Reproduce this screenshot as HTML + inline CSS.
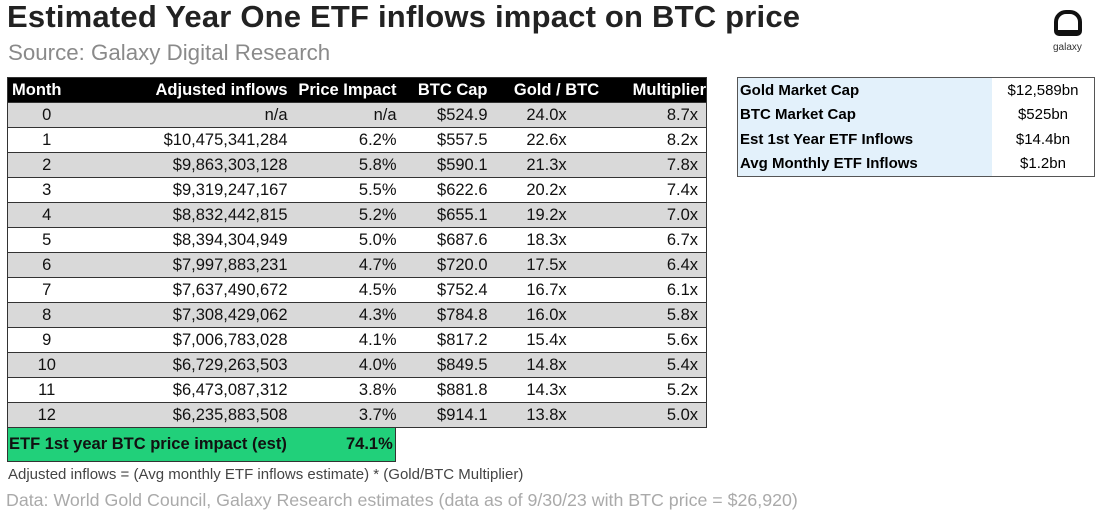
<!DOCTYPE html>
<html><head><meta charset="utf-8"><style>
body{margin:0;width:1100px;height:515px;background:#fff;font-family:"Liberation Sans",Arial,sans-serif;position:relative;overflow:hidden}
.a{position:absolute;white-space:nowrap}
table{border-collapse:collapse;position:absolute;table-layout:fixed}
#t{left:7px;top:77px;width:699px;font-size:16.5px;color:#111;border:1px solid #333}
#t td{height:24px;padding:0;border-top:1px solid #333;white-space:nowrap;overflow:hidden}
#t tr.h td{background:#000;color:#fff;font-weight:bold;font-size:16.5px}
#t tr.g td{background:#d9d9d9}
.r{text-align:right}.c{text-align:center}
#t td.p{padding-right:8px}
#t td.q{padding-right:20px}
#b{left:737px;top:77px;width:358px;border:1px solid #555;font-size:15px}
#b td{height:24.5px;padding:0 2px}
#b td.l{background:#e3f1fb;font-weight:bold;width:250px}
#b td.v{text-align:center}
</style></head><body>
<div class="a" style="left:7px;top:-1px;font-size:31px;font-weight:bold;color:#222;letter-spacing:0.2px">Estimated Year One ETF inflows impact on BTC price</div>
<div class="a" style="left:8px;top:40px;font-size:22.3px;color:#8a8a8a">Source: Galaxy Digital Research</div>
<div class="a" style="left:1054px;top:10px;width:28px;height:26px;border:4px solid #111;border-radius:12px 12px 5px 5px;box-sizing:border-box"></div>
<div class="a" style="left:1057px;top:30px;width:22px;height:5px;background:#111"></div>
<div class="a" style="left:1053px;top:42px;font-size:10px;color:#333">galaxy</div>
<table id="t">
<colgroup><col style="width:78px"><col style="width:202px"><col style="width:109px"><col style="width:91px"><col style="width:138px"><col style="width:81px"></colgroup>
<tr class="h"><td style="padding-left:4px">Month</td><td class="r">Adjusted inflows</td><td class="r">Price Impact</td><td class="r">BTC Cap</td><td class="c">Gold / BTC</td><td class="r">Multiplier</td></tr>
<tr class="g"><td class="c">0</td><td class="r">n/a</td><td class="r">n/a</td><td class="r">$524.9</td><td class="c q">24.0x</td><td class="r p">8.7x</td></tr>
<tr><td class="c">1</td><td class="r">$10,475,341,284</td><td class="r">6.2%</td><td class="r">$557.5</td><td class="c q">22.6x</td><td class="r p">8.2x</td></tr>
<tr class="g"><td class="c">2</td><td class="r">$9,863,303,128</td><td class="r">5.8%</td><td class="r">$590.1</td><td class="c q">21.3x</td><td class="r p">7.8x</td></tr>
<tr><td class="c">3</td><td class="r">$9,319,247,167</td><td class="r">5.5%</td><td class="r">$622.6</td><td class="c q">20.2x</td><td class="r p">7.4x</td></tr>
<tr class="g"><td class="c">4</td><td class="r">$8,832,442,815</td><td class="r">5.2%</td><td class="r">$655.1</td><td class="c q">19.2x</td><td class="r p">7.0x</td></tr>
<tr><td class="c">5</td><td class="r">$8,394,304,949</td><td class="r">5.0%</td><td class="r">$687.6</td><td class="c q">18.3x</td><td class="r p">6.7x</td></tr>
<tr class="g"><td class="c">6</td><td class="r">$7,997,883,231</td><td class="r">4.7%</td><td class="r">$720.0</td><td class="c q">17.5x</td><td class="r p">6.4x</td></tr>
<tr><td class="c">7</td><td class="r">$7,637,490,672</td><td class="r">4.5%</td><td class="r">$752.4</td><td class="c q">16.7x</td><td class="r p">6.1x</td></tr>
<tr class="g"><td class="c">8</td><td class="r">$7,308,429,062</td><td class="r">4.3%</td><td class="r">$784.8</td><td class="c q">16.0x</td><td class="r p">5.8x</td></tr>
<tr><td class="c">9</td><td class="r">$7,006,783,028</td><td class="r">4.1%</td><td class="r">$817.2</td><td class="c q">15.4x</td><td class="r p">5.6x</td></tr>
<tr class="g"><td class="c">10</td><td class="r">$6,729,263,503</td><td class="r">4.0%</td><td class="r">$849.5</td><td class="c q">14.8x</td><td class="r p">5.4x</td></tr>
<tr><td class="c">11</td><td class="r">$6,473,087,312</td><td class="r">3.8%</td><td class="r">$881.8</td><td class="c q">14.3x</td><td class="r p">5.2x</td></tr>
<tr class="g"><td class="c">12</td><td class="r">$6,235,883,508</td><td class="r">3.7%</td><td class="r">$914.1</td><td class="c q">13.8x</td><td class="r p">5.0x</td></tr>
</table>
<div class="a" style="left:7px;top:427px;width:389px;height:35px;background:#21d07a;border:1px solid #333;box-sizing:border-box"></div>
<div class="a" style="left:9px;top:435px;font-size:16.5px;font-weight:bold;color:#111">ETF 1st year BTC price impact (est)</div>
<div class="a" style="left:346px;top:435px;font-size:16.5px;font-weight:bold;color:#111">74.1%</div>
<div class="a" style="left:8px;top:466px;font-size:15px;color:#444">Adjusted inflows = (Avg monthly ETF inflows estimate) * (Gold/BTC Multiplier)</div>
<div class="a" style="left:6px;top:490px;font-size:17.8px;color:#aaa">Data: World Gold Council, Galaxy Research estimates (data as of 9/30/23 with BTC price = $26,920)</div>
<table id="b">
<tr><td class="l">Gold Market Cap</td><td class="v">$12,589bn</td></tr>
<tr><td class="l">BTC Market Cap</td><td class="v">$525bn</td></tr>
<tr><td class="l">Est 1st Year ETF Inflows</td><td class="v">$14.4bn</td></tr>
<tr><td class="l">Avg Monthly ETF Inflows</td><td class="v">$1.2bn</td></tr>
</table>
</body></html>
